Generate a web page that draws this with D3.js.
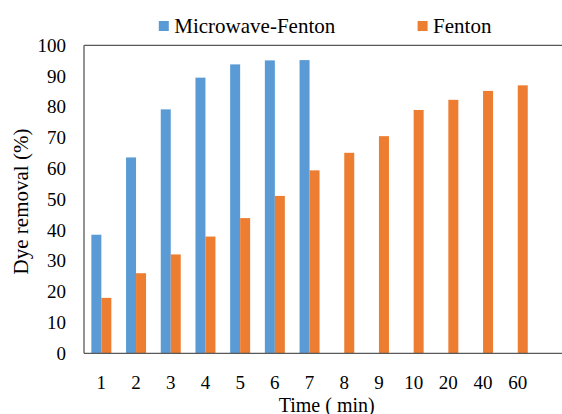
<!DOCTYPE html>
<html><head><meta charset="utf-8">
<script src="https://cdn.jsdelivr.net/npm/d3@7"></script>
<style>body{margin:0;background:#fff}svg{display:block}text{font-family:"Liberation Serif",Tinos,"Times New Roman","DejaVu Serif",serif;fill:#000}</style>
</head><body><svg id="c" width="562" height="414"></svg>
<script>
const categories = ["1","2","3","4","5","6","7","8","9","10","20","40","60"];
const seriesNames = ["Microwave-Fenton","Fenton"];
const microwaveFenton = [38.5,63.6,79.2,89.5,93.8,95.1,95.2,null,null,null,null,null,null];
const fenton = [18.0,26.0,32.1,37.9,43.9,51.1,59.4,65.1,70.5,79.0,82.3,85.2,87.0];
const yTicks = [0,10,20,30,40,50,60,70,80,90,100];
const colors = ["#5B9BD5","#ED7D31"];

(function(){
const FONT = '"Liberation Serif",Tinos,"Times New Roman","DejaVu Serif",serif';
const svg = d3.select("#c");
const W = 562;
const pLeft = 84, pTop = 45.3, pBottom = 353.3, step = 34.7;
const x = d3.scaleBand().domain(categories).range([pLeft, pLeft + step*categories.length]).paddingInner(0.424).paddingOuter(0.212);
const xs = d3.scaleBand().domain(seriesNames).range([0, x.bandwidth()]);
const y = d3.scaleLinear().domain([0,100]).range([pBottom, pTop]);

const series = [microwaveFenton, fenton];
series.forEach((vals, si) => {
  svg.append("g").selectAll("rect").data(vals.map((v,i)=>({v, c: categories[i]})).filter(d=>d.v!=null))
    .join("rect")
    .attr("x", d => x(d.c) + xs(seriesNames[si]))
    .attr("width", xs.bandwidth())
    .attr("y", d => y(d.v))
    .attr("height", d => y(0) - y(d.v))
    .attr("fill", colors[si]);
});

const lc = "#595959";
svg.append("line").attr("x1",pLeft).attr("x2",W).attr("y1",pTop).attr("y2",pTop).attr("stroke",lc).attr("stroke-width",1.3);
svg.append("line").attr("x1",pLeft).attr("x2",W).attr("y1",pBottom).attr("y2",pBottom).attr("stroke",lc).attr("stroke-width",1.3);
svg.append("line").attr("x1",pLeft).attr("x2",pLeft).attr("y1",pTop).attr("y2",pBottom).attr("stroke",lc).attr("stroke-width",1.3);

const yAxis = d3.axisLeft(y).tickValues(yTicks).tickSize(0).tickPadding(18);
const gy = svg.append("g").attr("transform",`translate(${pLeft},0)`).call(yAxis);
gy.select(".domain").remove();
gy.attr("font-family", FONT).attr("font-size", 19);
gy.selectAll("text").attr("fill","#000");

const xAxis = d3.axisBottom(x).tickSize(0).tickPadding(22);
const gx = svg.append("g").attr("transform",`translate(0,${pBottom})`).call(xAxis);
gx.select(".domain").remove();
gx.attr("font-family", FONT).attr("font-size", 19);
gx.selectAll("text").attr("fill","#000");

svg.append("text").attr("x",326.7).attr("y",411.5).attr("text-anchor","middle").attr("font-family",FONT).attr("font-size",20).text("Time ( min)");
svg.append("text").attr("transform","translate(27.5,201.5) rotate(-90)").attr("text-anchor","middle").attr("font-family",FONT).attr("font-size",21).text("Dye removal (%)");

const legendX = [158.8, 417.6];
seriesNames.forEach((n,i)=>{
  svg.append("rect").attr("x",legendX[i]).attr("y",21).attr("width",10).attr("height",10).attr("fill",colors[i]);
  svg.append("text").attr("x",legendX[i]+15.5).attr("y",33).attr("font-family",FONT).attr("font-size",21).text(n);
});
})();
</script></body></html>
